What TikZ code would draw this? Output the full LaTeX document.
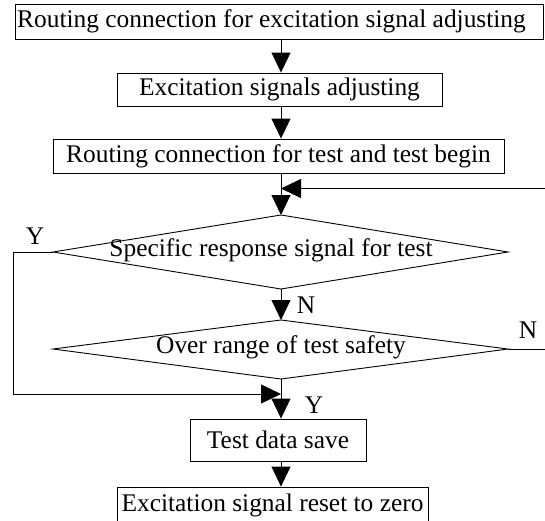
\documentclass[tikz,border=0pt]{standalone}
\usepackage{fontspec}
\setmainfont{Liberation Serif}
\usetikzlibrary{arrows.meta}
\begin{document}
\begin{tikzpicture}[x=1pt,y=1pt,
  every node/.style={font=\fontsize{25.4}{27}\selectfont, inner sep=0pt},
  box/.style={draw, line width=0.9pt, anchor=center},
  lbl/.style={font=\fontsize{25.4}{27}\selectfont},
  line/.style={line width=0.9pt},
  arr/.style={line width=0.9pt, -{Triangle[length=20pt,width=19pt]}}]
\useasboundingbox (0,0) rectangle (545,-520);
% boxes
\node[box, minimum width=528pt, minimum height=35pt] (b1) at (279,-21.5) {\hspace*{-15pt}Routing connection for excitation signal adjusting};
\node[box, minimum width=325pt, minimum height=33pt] (b2) at (279.5,-89.5) {Excitation signals adjusting};
\node[box, minimum width=451pt, minimum height=34pt] (b3) at (278.5,-156) {Routing connection for test and test begin};
\node[box, minimum width=176pt, minimum height=42pt] (b4) at (278,-440) {Test data save};
\node[box, minimum width=311pt, minimum height=36pt] (b5) at (272.5,-505) {Excitation signal reset to zero};
% diamond 1
\coordinate (d1t) at (281,-215);
\coordinate (d1l) at (53,-252);
\coordinate (d1r) at (508,-252);
\coordinate (d1b) at (281,-289);
\draw[line] (d1t) -- (d1r) -- (d1b) -- (d1l) -- cycle;
\node (d1) at (271,-250) {Specific response signal for test};
% diamond 2
\coordinate (d2t) at (281,-320);
\coordinate (d2l) at (53,-349);
\coordinate (d2r) at (508,-349);
\coordinate (d2b) at (281,-379);
\draw[line] (d2t) -- (d2r) -- (d2b) -- (d2l) -- cycle;
\node (d2) at (281,-347) {Over range of test safety};
% helper coordinates
\coordinate (fbin) at (545,-188.5);
\coordinate (fbout) at (281,-188.5);
\coordinate (yl1) at (13,-252);
\coordinate (yl2) at (13,-394);
\coordinate (yend) at (281,-394);
\coordinate (nout) at (545,-349);
% connectors
\draw[arr] (b1.south -| 281,0) -- (b2.north -| 281,0);
\draw[arr] (b2.south -| 281,0) -- (b3.north -| 281,0);
\draw[arr] (b3.south -| 281,0) -- (d1t);
\draw[arr] (fbin) -- (fbout);
\draw[arr] (d1b) -- (d2t);
\draw[line] (d2r) -- (nout);
\draw[arr] (d1l) -- (yl1) -- (yl2) -- (yend);
\draw[arr] (d2b) -- (b4.north -| 281,0);
\draw[arr] (b4.south -| 281,0) -- (b5.north -| 281,0);
% labels
\node[lbl] (ly1) at (35,-236) {Y};
\node[lbl] (ln1) at (306,-305) {N};
\node[lbl] (ln2) at (528,-330) {N};
\node[lbl] (ly2) at (314,-405) {Y};
\end{tikzpicture}
\end{document}
